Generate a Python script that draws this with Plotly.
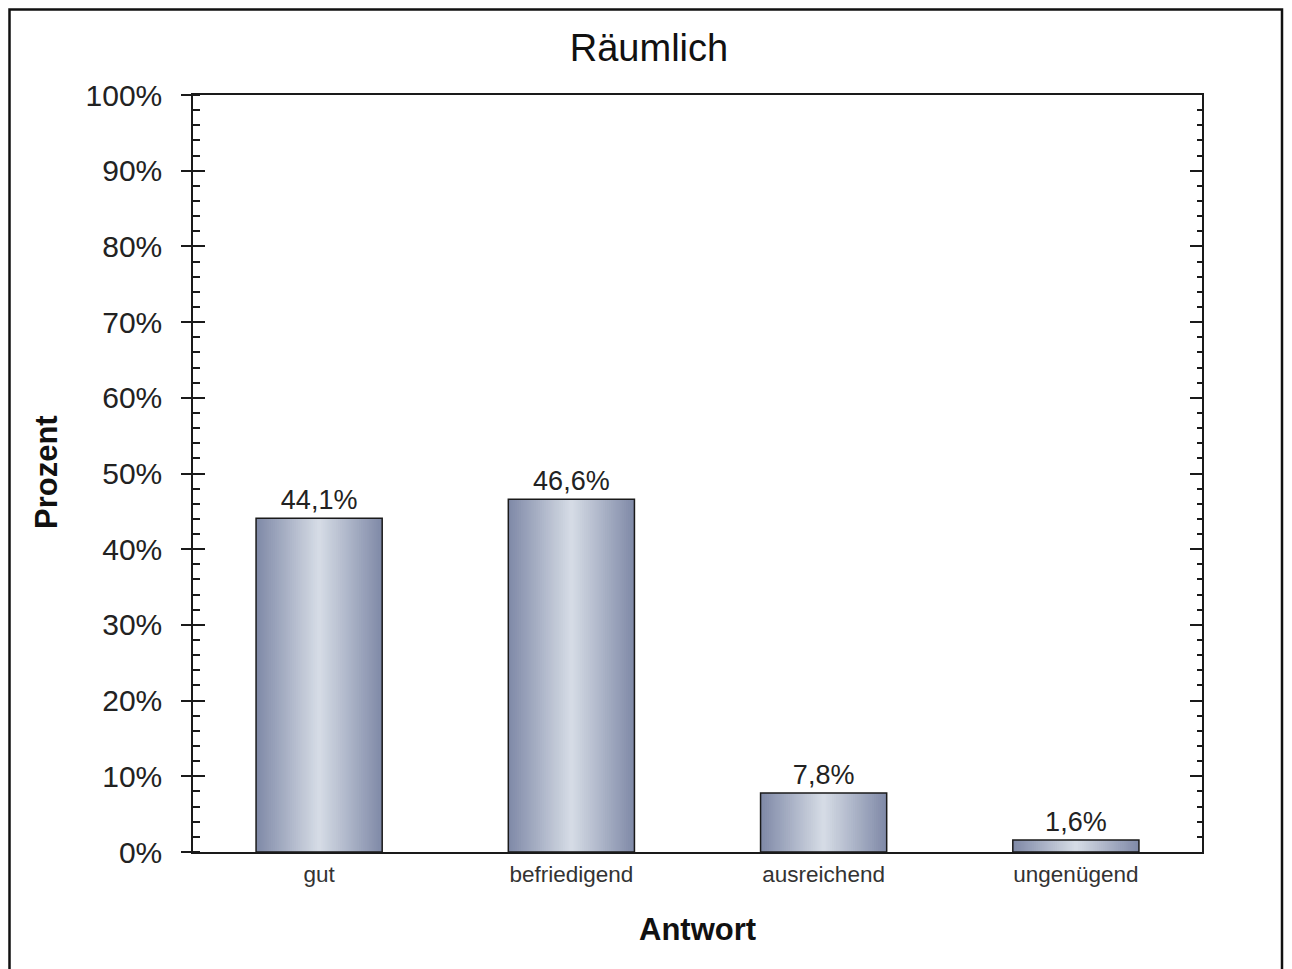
import plotly.graph_objects as go

categories = ["gut", "befriedigend", "ausreichend", "ungenügend"]
values = [44.1, 46.6, 7.8, 1.6]
y_tick_values = [0, 10, 20, 30, 40, 50, 60, 70, 80, 90, 100]
y_tick_labels = [f"{v}%" for v in y_tick_values]

OFF = 8  # page body margin in the browser
W, H = 1292 - OFF, 969 - OFF
FONT = "Liberation Sans, Arial, sans-serif"


def px(x):
    return (x - OFF) / W


def py(y):
    return 1 - (y - OFF) / H


edge = (128, 138, 168)
center = (216, 222, 231)
N = 30
bar_w = 0.5

fig = go.Figure()
for k in range(N):
    t = k / N  # 0 at outer edge, ->1 at center
    col = tuple(int(round(edge[i] + (center[i] - edge[i]) * t)) for i in range(3))
    fig.add_trace(go.Bar(
        x=categories, y=values, width=bar_w * (1 - t),
        marker=dict(color=f"rgb{col}", line=dict(width=0)),
        hoverinfo="skip", showlegend=False,
    ))

labels = [f"{v:.1f}".replace(".", ",") + "%" for v in values]
fig.add_trace(go.Bar(
    x=categories, y=values, width=bar_w,
    marker=dict(color="rgba(0,0,0,0)", line=dict(color="#1a1a1a", width=1.5)),
    text=labels, textposition="outside", cliponaxis=False,
    textfont=dict(family=FONT, size=27, color="#222222"),
    showlegend=False,
))
# invisible helper traces so the extra tick axes render
fig.add_trace(go.Scatter(x=categories, y=values, yaxis="y2", mode="markers",
                         marker=dict(opacity=0), hoverinfo="skip", showlegend=False))
fig.add_trace(go.Scatter(x=categories, y=values, yaxis="y3", mode="markers",
                         marker=dict(opacity=0), hoverinfo="skip", showlegend=False))

xd = [px(193), px(1202)]
yd = [py(852), py(95)]

fig.update_layout(
    width=W, height=H,
    margin=dict(l=0, r=0, t=0, b=0, autoexpand=False),
    paper_bgcolor="white", plot_bgcolor="white",
    barmode="overlay",
    font=dict(family=FONT, color="#222222"),
    title=dict(text="Räumlich", x=px(649), xanchor="center", y=py(48), yanchor="middle",
               font=dict(family=FONT, size=38, color="#111111")),
    xaxis=dict(domain=xd, range=[-0.5, 3.5], type="category", showline=True, linecolor="#1a1a1a",
               linewidth=1.5, mirror=True, ticks="", showgrid=False, zeroline=False, automargin=False,
               tickfont=dict(family=FONT, size=22.5, color="#333333"), ticklabelstandoff=1),
    yaxis=dict(domain=yd, range=[0, 100], tickvals=y_tick_values, ticktext=y_tick_labels,
               ticks="outside", ticklen=10, tickwidth=1.5, tickcolor="#1a1a1a",
               showline=True, linecolor="#1a1a1a", linewidth=1.5, mirror=True, automargin=False,
               showgrid=False, zeroline=False, ticklabelstandoff=13,
               tickfont=dict(family=FONT, size=30, color="#222222"),
               minor=dict(ticks="inside", ticklen=7, tickwidth=1.5, dtick=2, tickcolor="#1a1a1a",
                          showgrid=False)),
    yaxis2=dict(overlaying="y", side="left", range=[0, 100], tickvals=y_tick_values, automargin=False,
                ticks="inside", ticklen=12, tickwidth=1.5, tickcolor="#1a1a1a",
                showticklabels=False, showline=False, showgrid=False, zeroline=False),
    yaxis3=dict(overlaying="y", side="right", range=[0, 100], tickvals=y_tick_values, automargin=False,
                ticks="inside", ticklen=12, tickwidth=1.5, tickcolor="#1a1a1a",
                showticklabels=False, showline=False, showgrid=False, zeroline=False,
                minor=dict(ticks="inside", ticklen=5, tickwidth=1.5, dtick=2, tickcolor="#1a1a1a",
                           showgrid=False)),
    annotations=[
        dict(text="<b>Prozent</b>", x=px(46), y=py(472), xref="paper", yref="paper",
             textangle=-90, showarrow=False, xanchor="center", yanchor="middle",
             font=dict(family=FONT, size=31, color="#111111")),
        dict(text="<b>Antwort</b>", x=px(697), y=py(929), xref="paper", yref="paper",
             showarrow=False, xanchor="center", yanchor="middle",
             font=dict(family=FONT, size=31, color="#111111")),
    ],
    shapes=[dict(type="rect", xref="paper", yref="paper", x0=px(9.5), x1=px(1282),
                 y0=-0.05, y1=py(9.5), line=dict(color="#111111", width=2.5),
                 fillcolor="rgba(0,0,0,0)", layer="above")],
)

fig.write_html("out.html")
